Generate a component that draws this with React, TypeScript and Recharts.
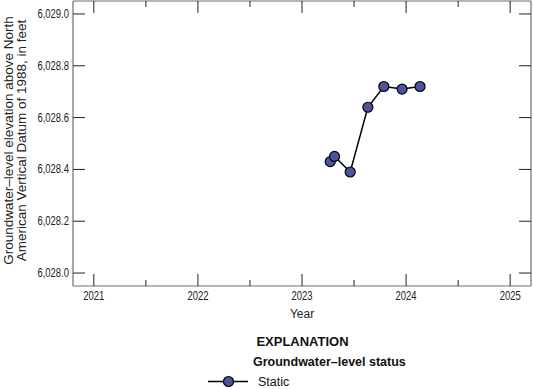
import React from "react";
import { LineChart, Line, XAxis, YAxis, Legend } from "recharts";

// ---- data ----
const sampleDates = [
  "2023-04-10",
  "2023-04-25",
  "2023-06-19",
  "2023-08-20",
  "2023-10-15",
  "2023-12-18",
  "2024-02-19",
];
const levels = [6028.43, 6028.45, 6028.39, 6028.64, 6028.72, 6028.71, 6028.72];
const xTicks = [2021, 2021.5, 2022, 2022.5, 2023, 2023.5, 2024, 2024.5, 2025];
const yTicks = [6028.0, 6028.2, 6028.4, 6028.6, 6028.8, 6029.0];
const xDomain = [2020.8, 2025.2];
const yDomain = [6027.95, 6029.05];
const yTitle = [
  "Groundwater\u2013level elevation above North",
  "American Vertical Datum of 1988, in feet",
];
const xTitle = "Year";
const legendTitle = "EXPLANATION";
const legendSub = "Groundwater\u2013level status";
const seriesName = "Static";

function toDecimalYear(s: string): number {
  const [y, m, d] = s.split("-").map(Number);
  const start = Date.UTC(y, 0, 1);
  const end = Date.UTC(y + 1, 0, 1);
  const t = Date.UTC(y, m - 1, d);
  return y + (t - start) / (end - start);
}

const data = sampleDates.map((d, i) => ({ t: toDecimalYear(d), v: levels[i] }));

const W = 533;
const H = 389;
const SANS = "'Liberation Sans', Arial, sans-serif";
const TICK = "#222";
const AXIS = "#6e6e6e";
const DOT_FILL = "#4e52a0";
const CONDENSE = 0.79;

const fmtY = (v: number) =>
  v.toLocaleString("en-US", { minimumFractionDigits: 1, maximumFractionDigits: 1 });

const isMajor = (v: number) => Math.abs(v - Math.round(v)) < 1e-6;

function CondensedText(props: any) {
  const { x, y, anchor, size, children } = props;
  return (
    <text
      transform={`translate(${x},${y}) scale(${CONDENSE},1)`}
      x={0}
      y={0}
      textAnchor={anchor}
      fontSize={size}
      fontFamily={SANS}
      fill={TICK}
    >
      {children}
    </text>
  );
}

function BottomTick(props: any) {
  const { x, y, payload } = props;
  const major = isMajor(payload.value);
  return (
    <g>
      <line x1={x} x2={x} y1={y} y2={y - (major ? 12 : 6)} stroke={TICK} strokeWidth={1} />
      {major && (
        <CondensedText x={x} y={y + 13.5} anchor="middle" size={12}>
          {Math.round(payload.value)}
        </CondensedText>
      )}
    </g>
  );
}

function TopTick(props: any) {
  const { x, y, payload } = props;
  const major = isMajor(payload.value);
  return <line x1={x} x2={x} y1={y} y2={y + (major ? 12 : 6)} stroke={TICK} strokeWidth={1} />;
}

function LeftTick(props: any) {
  const { x, y, payload } = props;
  return (
    <g>
      <line x1={x} x2={x + 12} y1={y} y2={y} stroke={TICK} strokeWidth={1} />
      <CondensedText x={x - 4} y={y + 4} anchor="end" size={12}>
        {fmtY(payload.value)}
      </CondensedText>
    </g>
  );
}

function RightTick(props: any) {
  const { x, y } = props;
  return <line x1={x} x2={x - 12} y1={y} y2={y} stroke={TICK} strokeWidth={1} />;
}

function YTitle(props: any) {
  const vb = props.viewBox || { x: 0, y: 1, width: 73, height: 285 };
  const cy = vb.y + vb.height / 2 - 3;
  return (
    <g fontFamily={SANS} fontSize={13.5} fill="#222">
      <text x={12.5} y={cy} transform={`rotate(-90 12.5 ${cy})`} textAnchor="middle">
        {yTitle[0]}
      </text>
      <text x={26} y={cy} transform={`rotate(-90 26 ${cy})`} textAnchor="middle">
        {yTitle[1]}
      </text>
    </g>
  );
}

function XTitle(props: any) {
  const vb = props.viewBox || { x: 73, y: 286, width: 458, height: 103 };
  return (
    <text x={vb.x + vb.width / 2} y={vb.y + 32} textAnchor="middle" fontFamily={SANS} fontSize={12} fill="#222">
      {xTitle}
    </text>
  );
}

function Explanation() {
  return (
    <svg width={W} height={64} style={{ display: "block" }}>
      <text x={302.5} y={21} textAnchor="middle" fontFamily={SANS} fontWeight="bold" fontSize={13} fill="#111">
        {legendTitle}
      </text>
      <text x={253} y={41} fontFamily={SANS} fontWeight="bold" fontSize={12.5} fill="#111">
        {legendSub}
      </text>
      <line x1={208} x2={248} y1={56.5} y2={56.5} stroke="#000" strokeWidth={1.5} />
      <circle cx={228.5} cy={56.5} r={5} fill={DOT_FILL} stroke="#000" strokeWidth={1.2} />
      <text x={258} y={60.5} fontFamily={SANS} fontSize={12.5} fill="#111">
        {seriesName}
      </text>
    </svg>
  );
}

export default function App() {
  return (
    <div style={{ position: "absolute", left: 0, top: 0, width: W, height: H, background: "#fff" }}>
      <LineChart width={W} height={H} data={data} margin={{ top: 0, right: 1, bottom: 0, left: 0 }}>
        <XAxis
          xAxisId="bottom"
          dataKey="t"
          type="number"
          orientation="bottom"
          domain={xDomain}
          ticks={xTicks}
          interval={0}
          height={103}
          tickSize={0}
          tickMargin={0}
          tickLine={false}
          axisLine={{ stroke: AXIS, strokeWidth: 1.2 }}
          tick={<BottomTick />}
          label={(p: any) => <XTitle {...p} />}
          allowDataOverflow
        />
        <XAxis
          xAxisId="top"
          dataKey="t"
          type="number"
          orientation="top"
          domain={xDomain}
          ticks={xTicks}
          interval={0}
          height={1}
          tickSize={0}
          tickMargin={0}
          tickLine={false}
          axisLine={{ stroke: AXIS, strokeWidth: 1.2 }}
          tick={<TopTick />}
          allowDataOverflow
        />
        <YAxis
          yAxisId="left"
          type="number"
          orientation="left"
          domain={yDomain}
          ticks={yTicks}
          interval={0}
          width={73}
          tickSize={0}
          tickMargin={0}
          tickLine={false}
          axisLine={{ stroke: AXIS, strokeWidth: 1.2 }}
          tick={<LeftTick />}
          label={(p: any) => <YTitle {...p} />}
          allowDataOverflow
        />
        <YAxis
          yAxisId="right"
          type="number"
          orientation="right"
          domain={yDomain}
          ticks={yTicks}
          interval={0}
          width={1}
          tickSize={0}
          tickMargin={0}
          tickLine={false}
          axisLine={{ stroke: AXIS, strokeWidth: 1.2 }}
          tick={<RightTick />}
          allowDataOverflow
        />
        <Line
          xAxisId="bottom"
          yAxisId="left"
          dataKey="v"
          name={seriesName}
          stroke="#000"
          strokeWidth={1.5}
          dot={{ r: 5, fill: DOT_FILL, stroke: "#000", strokeWidth: 1.2 }}
          activeDot={false}
          isAnimationActive={false}
        />
        <Legend
          layout="horizontal"
          verticalAlign="middle"
          align="center"
          wrapperStyle={{ top: 325, left: 0, width: W, height: 64 }}
          content={() => <Explanation />}
        />
      </LineChart>
    </div>
  );
}
